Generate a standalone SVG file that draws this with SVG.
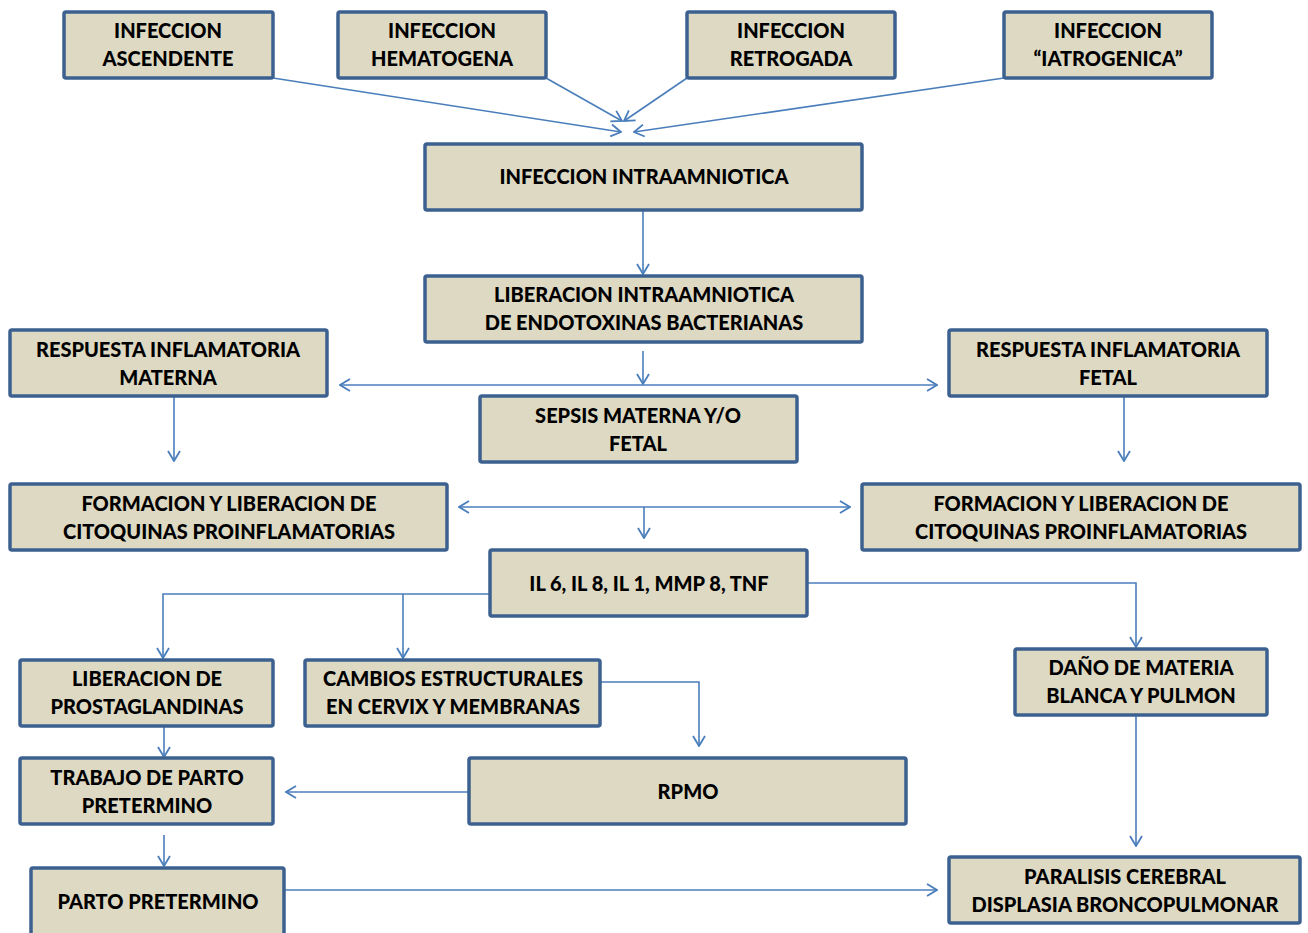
<svg xmlns="http://www.w3.org/2000/svg" width="1308" height="933" viewBox="0 0 1308 933">
<style>
.box{fill:#DDD9C3;stroke:#3C6190;stroke-width:3.5}
.t{font-family:Lato,"Open Sans","Liberation Sans",sans-serif;font-weight:900;font-size:20px;fill:#000;text-anchor:middle}
.c{fill:none;stroke:#4A7EBB;stroke-width:1.6}
</style>
<defs>
<marker id="a" viewBox="0 0 12 14" refX="11" refY="7" markerWidth="12" markerHeight="14" markerUnits="userSpaceOnUse" orient="auto-start-reverse">
<path d="M1,1 L11,7 L1,13" fill="none" stroke="#4A7EBB" stroke-width="1.8"/>
</marker>
</defs>
<rect width="1308" height="933" fill="#fff"/>
<g id="connectors">
<line class="c" x1="273" y1="78" x2="621" y2="132" marker-end="url(#a)"/>
<line class="c" x1="546" y1="78" x2="622" y2="121" marker-end="url(#a)"/>
<line class="c" x1="687" y1="78" x2="624" y2="121" marker-end="url(#a)"/>
<line class="c" x1="1004" y1="78" x2="634" y2="132" marker-end="url(#a)"/>
<line class="c" x1="643" y1="210" x2="643" y2="274" marker-end="url(#a)"/>
<line class="c" x1="643" y1="351" x2="643" y2="384" marker-end="url(#a)"/>
<line class="c" x1="340" y1="385" x2="937" y2="385" marker-start="url(#a)" marker-end="url(#a)"/>
<line class="c" x1="174" y1="396" x2="174" y2="461" marker-end="url(#a)"/>
<line class="c" x1="1124" y1="396" x2="1124" y2="461" marker-end="url(#a)"/>
<line class="c" x1="459" y1="507" x2="850" y2="507" marker-start="url(#a)" marker-end="url(#a)"/>
<line class="c" x1="644" y1="507" x2="644" y2="538" marker-end="url(#a)"/>
<polyline class="c" points="490,594 163,594 163,658" marker-end="url(#a)"/>
<line class="c" x1="403" y1="594" x2="403" y2="658" marker-end="url(#a)"/>
<polyline class="c" points="807,583 1136,583 1136,647" marker-end="url(#a)"/>
<polyline class="c" points="600,682 699,682 699,746" marker-end="url(#a)"/>
<line class="c" x1="164" y1="726" x2="164" y2="757" marker-end="url(#a)"/>
<line class="c" x1="469" y1="792" x2="286" y2="792" marker-end="url(#a)"/>
<line class="c" x1="164" y1="835" x2="164" y2="866" marker-end="url(#a)"/>
<line class="c" x1="284" y1="890" x2="937" y2="890" marker-end="url(#a)"/>
<line class="c" x1="1136" y1="715" x2="1136" y2="846" marker-end="url(#a)"/>
</g>
<g id="n1"><rect class="box" x="64" y="12" width="209" height="66" rx="2"/><text class="t" x="168" y="38">INFECCION</text><text class="t" x="168" y="66">ASCENDENTE</text></g>
<g id="n2"><rect class="box" x="338" y="12" width="208" height="66" rx="2"/><text class="t" x="442" y="38">INFECCION</text><text class="t" x="442" y="66">HEMATOGENA</text></g>
<g id="n3"><rect class="box" x="687" y="12" width="208" height="66" rx="2"/><text class="t" x="791" y="38">INFECCION</text><text class="t" x="791" y="66">RETROGADA</text></g>
<g id="n4"><rect class="box" x="1004" y="12" width="208" height="66" rx="2"/><text class="t" x="1108" y="38">INFECCION</text><text class="t" x="1108" y="66">“IATROGENICA”</text></g>
<g id="n5"><rect class="box" x="425" y="144" width="437" height="66" rx="2"/><text class="t" x="644" y="184">INFECCION INTRAAMNIOTICA</text></g>
<g id="n6"><rect class="box" x="425" y="276" width="437" height="66" rx="2"/><text class="t" x="644" y="302">LIBERACION INTRAAMNIOTICA</text><text class="t" x="644" y="330">DE ENDOTOXINAS BACTERIANAS</text></g>
<g id="n7"><rect class="box" x="10" y="330" width="317" height="66" rx="2"/><text class="t" x="168" y="357">RESPUESTA INFLAMATORIA</text><text class="t" x="168" y="385">MATERNA</text></g>
<g id="n8"><rect class="box" x="480" y="396" width="317" height="66" rx="2"/><text class="t" x="638" y="423">SEPSIS MATERNA Y/O</text><text class="t" x="638" y="451">FETAL</text></g>
<g id="n9"><rect class="box" x="949" y="330" width="318" height="66" rx="2"/><text class="t" x="1108" y="357">RESPUESTA INFLAMATORIA</text><text class="t" x="1108" y="385">FETAL</text></g>
<g id="n10"><rect class="box" x="10" y="484" width="437" height="66" rx="2"/><text class="t" x="229" y="511">FORMACION Y LIBERACION DE</text><text class="t" x="229" y="539">CITOQUINAS PROINFLAMATORIAS</text></g>
<g id="n11"><rect class="box" x="862" y="484" width="438" height="66" rx="2"/><text class="t" x="1081" y="511">FORMACION Y LIBERACION DE</text><text class="t" x="1081" y="539">CITOQUINAS PROINFLAMATORIAS</text></g>
<g id="n12"><rect class="box" x="490" y="550" width="317" height="66" rx="2"/><text class="t" x="649" y="591">IL 6, IL 8, IL 1, MMP 8, TNF</text></g>
<g id="n13"><rect class="box" x="20" y="660" width="253" height="66" rx="2"/><text class="t" x="147" y="686">LIBERACION DE</text><text class="t" x="147" y="714">PROSTAGLANDINAS</text></g>
<g id="n14"><rect class="box" x="305" y="660" width="295" height="66" rx="2"/><text class="t" x="453" y="686">CAMBIOS ESTRUCTURALES</text><text class="t" x="453" y="714">EN CERVIX Y MEMBRANAS</text></g>
<g id="n15"><rect class="box" x="1015" y="649" width="252" height="66" rx="2"/><text class="t" x="1141" y="675">DAÑO DE MATERIA</text><text class="t" x="1141" y="703">BLANCA Y PULMON</text></g>
<g id="n16"><rect class="box" x="20" y="758" width="253" height="66" rx="2"/><text class="t" x="147" y="785">TRABAJO DE PARTO</text><text class="t" x="147" y="813">PRETERMINO</text></g>
<g id="n17"><rect class="box" x="469" y="758" width="437" height="66" rx="2"/><text class="t" x="688" y="799">RPMO</text></g>
<g id="n18"><rect class="box" x="31" y="868" width="253" height="70" rx="2"/><text class="t" x="158" y="909">PARTO PRETERMINO</text></g>
<g id="n19"><rect class="box" x="949" y="857" width="351" height="66" rx="2"/><text class="t" x="1125" y="884">PARALISIS CEREBRAL</text><text class="t" x="1125" y="912">DISPLASIA BRONCOPULMONAR</text></g>
</svg>
